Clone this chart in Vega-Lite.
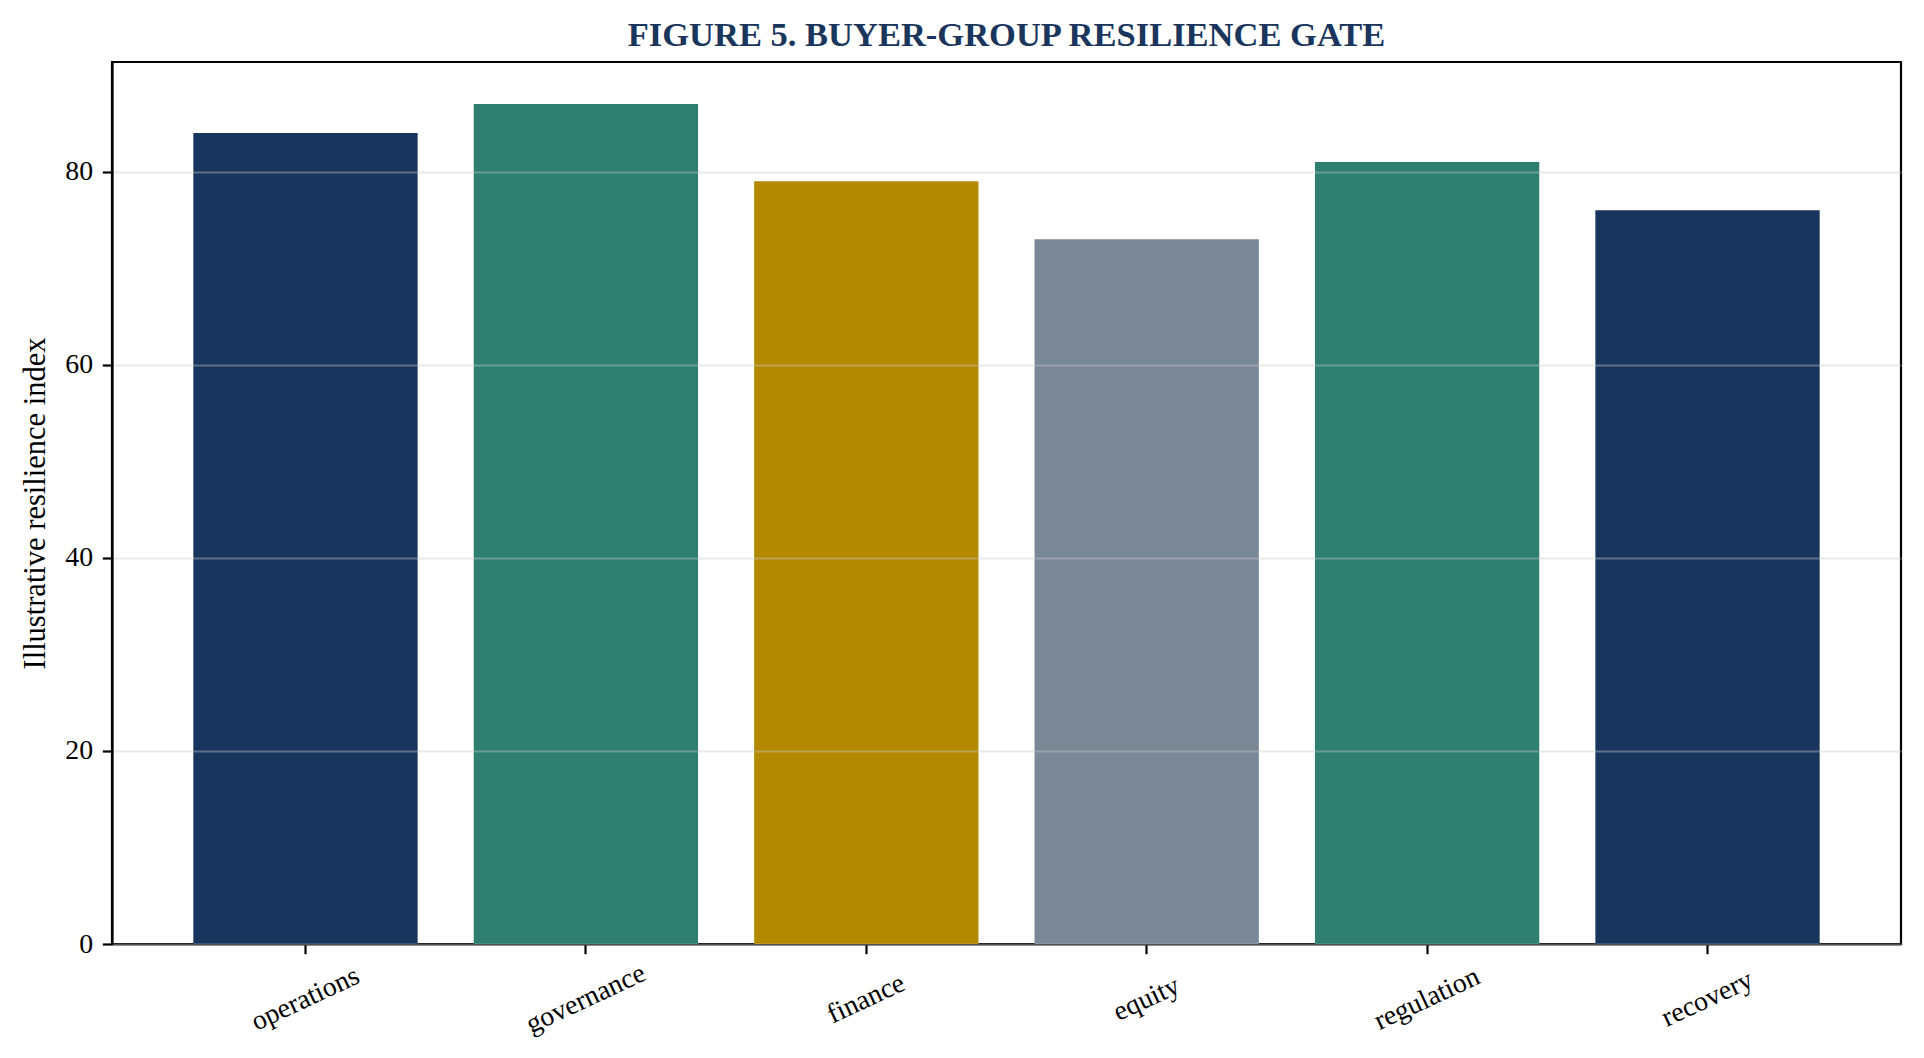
{
  "$schema": "https://vega.github.io/schema/vega-lite/v6.json",
  "description": "Buyer-group resilience gate, illustrative resilience index by area.",
  "autosize": "none",
  "padding": {"left": 112, "top": 62, "right": 23, "bottom": 114},
  "width": 1789,
  "height": 882,
  "title": {
    "text": "FIGURE 5. BUYER-GROUP RESILIENCE GATE",
    "font": "Liberation Serif",
    "fontSize": 34.5,
    "fontWeight": "bold",
    "color": "#1a365d",
    "anchor": "middle",
    "baseline": "alphabetic",
    "offset": 17,
    "dy": 35
  },
  "data": {
    "values": [
      {"area": "operations", "score": 84},
      {"area": "governance", "score": 87},
      {"area": "finance", "score": 79},
      {"area": "equity", "score": 73},
      {"area": "regulation", "score": 81},
      {"area": "recovery", "score": 76}
    ]
  },
  "mark": {"type": "bar"},
  "encoding": {
    "x": {
      "field": "area",
      "type": "nominal",
      "sort": null,
      "title": null,
      "scale": {"paddingInner": 0.2, "paddingOuter": 0.29},
      "axis": {
        "labelAngle": -25,
        "labelAlign": "center",
        "labelBaseline": "middle",
        "labelPadding": 45,
        "labelFontSize": 27.8,
        "tickSize": 9.7,
        "grid": false
      }
    },
    "y": {
      "field": "score",
      "type": "quantitative",
      "title": "Illustrative resilience index",
      "scale": {"domain": [0, 91.35], "nice": false},
      "axis": {
        "values": [0, 20, 40, 60, 80],
        "labelFontSize": 27.8,
        "titleFontSize": 30.5,
        "titleFontWeight": "normal",
        "titlePadding": 14,
        "labelPadding": 9.7,
        "tickSize": 9.7,
        "grid": true,
        "gridColor": "#c8c8c8",
        "gridOpacity": 0.4,
        "gridWidth": 2,
        "zindex": 1
      }
    },
    "color": {
      "field": "area",
      "type": "nominal",
      "legend": null,
      "scale": {
        "domain": ["operations", "governance", "finance", "equity", "regulation", "recovery"],
        "range": ["#18365d", "#2e7f70", "#b38900", "#7a8796", "#2e7f70", "#18365d"]
      }
    }
  },
  "config": {
    "background": "white",
    "font": "Liberation Serif",
    "view": {"stroke": "#000000", "strokeWidth": 2.2},
    "axis": {
      "labelFont": "Liberation Serif",
      "titleFont": "Liberation Serif",
      "labelColor": "#000000",
      "titleColor": "#000000",
      "domainColor": "#000000",
      "domainWidth": 2.2,
      "tickColor": "#000000",
      "tickWidth": 2.2
    }
  }
}
